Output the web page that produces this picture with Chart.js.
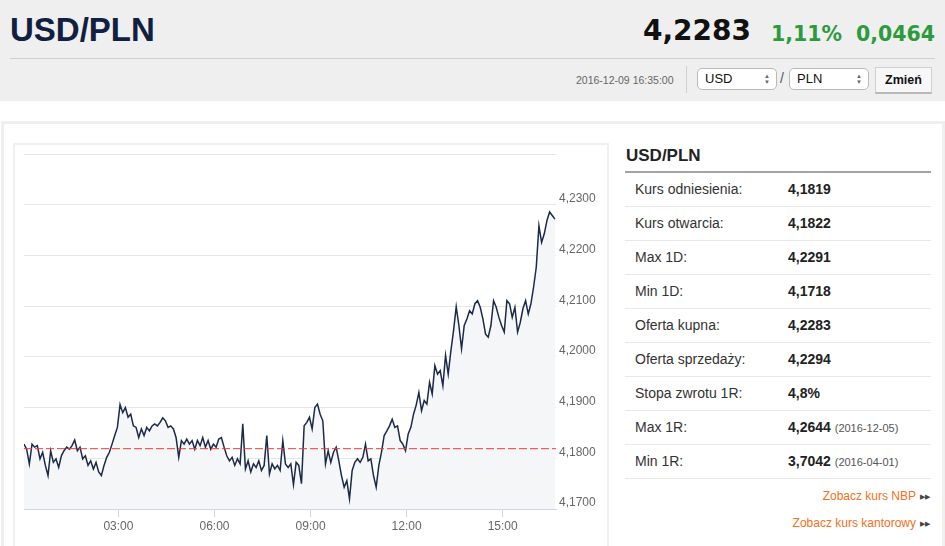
<!DOCTYPE html>
<html lang="pl">
<head>
<meta charset="UTF-8">
<title>USD/PLN</title>
<script src="https://cdn.jsdelivr.net/npm/chart.js@4.4.1/dist/chart.umd.min.js"></script>
<style>
  body { margin: 0; width: 945px; height: 546px; overflow: hidden; background: #fff; position: relative;
         font-family: Arial, "Liberation Sans", sans-serif; color: #333; }
  .abs { position: absolute; white-space: nowrap; }
  #header { left: 0; top: 0; width: 945px; height: 101px; background: #efefef; }
  .title { font-family: "Liberation Sans", Arial, sans-serif; font-weight: bold; font-size: 33px; line-height: 33px; color: #0f2040; }
  .price { font-family: "DejaVu Sans", sans-serif; font-weight: bold; font-size: 28px; line-height: 28px; color: #111; }
  .green { font-family: "DejaVu Sans", sans-serif; color: #2e9a3e; font-weight: bold; font-size: 20.5px; line-height: 20.5px; }
  .sel { height: 20px; border: 1px solid #b9b9b9; border-radius: 5px; background: #fff; font-size: 13px; line-height: 20px; color: #111; }
  .sel .t { position: absolute; left: 7px; top: 0; }
  .sel .arr { position: absolute; right: 6px; top: 4px; font-size: 6px; line-height: 6px; color: #666; }
  .row { left: 625px; width: 306px; height: 33px; border-bottom: 1px solid #e8e8e8; font-size: 14px; line-height: 33px; }
  .row .l { position: absolute; left: 10px; color: #333; }
  .row .v { position: absolute; left: 163px; font-weight: bold; color: #222; }
  .row .d { font-weight: normal; font-size: 11px; color: #555; }
  .link { right: 15px; font-size: 12px; color: #f37021; }
  .link span { color: #444; font-size: 7px; margin-left: 4px; vertical-align: 1px; }
</style>
</head>
<body>
<div id="header" class="abs"></div>
<div class="abs title" style="left:10px; top:13px;">USD/PLN</div>
<div class="abs price" style="left:643px; top:17px;">4,2283</div>
<div class="abs green" style="left:771px; top:24px;">1,11%</div>
<div class="abs green" style="left:856px; top:24px;">0,0464</div>
<div class="abs" style="left:10px; top:58px; width:925px; height:1px; background:#cfcfcf;"></div>
<div class="abs" style="left:576px; top:74px; font-size:10.5px; color:#666;">2016-12-09 16:35:00</div>
<div class="abs" style="left:686px; top:66px; width:1px; height:27px; background:#cfcfcf;"></div>
<div class="abs sel" style="left:697px; top:68px; width:78px;"><span class="t">USD</span><span class="arr">▲<br>▼</span></div>
<div class="abs" style="left:780px; top:70px; font-size:14px; color:#555;">/</div>
<div class="abs sel" style="left:789px; top:68px; width:78px;"><span class="t">PLN</span><span class="arr">▲<br>▼</span></div>
<div class="abs" style="left:875px; top:67px; width:55px; height:24px; background:#f7f7f7; border:1px solid #d0d0d0; border-bottom:2px solid #b8b8b8; font-size:12.5px; font-weight:bold; line-height:25px; text-align:center; color:#111;">Zmień</div>

<div class="abs" style="left:1px; top:121px; width:938px; height:440px; border:3px solid #efefef;"></div>
<div class="abs" style="left:13px; top:143px; width:592px; height:420px; border:2px solid #f0f0f0;"></div>
<div class="abs" style="left:14px; top:144px; width:594px; height:400px;">
  <canvas id="rateChart" width="594" height="400"></canvas>
</div>

<div class="abs" style="left:626px; top:146px; font-size:17px; font-weight:bold; color:#222;">USD/PLN</div>
<div class="abs" style="left:625px; top:171px; width:306px; height:2px; background:#a3a3a3;"></div>
<div id="stats"></div>
<div class="abs link" style="top:489px;">Zobacz kurs NBP<span>▶▶</span></div>
<div class="abs link" style="top:516px;">Zobacz kurs kantorowy<span>▶▶</span></div>

<script>
// intraday USD/PLN, one reading every 5 minutes from 00:03
const startMinute = 3;
const stepMinutes = 5;
const endMinute = 1000;
const rates = [
  4.1828, 4.1818, 4.1789, 4.1828, 4.1822, 4.1825, 4.1799, 4.1812, 4.1786, 4.1766,
  4.1815, 4.1792, 4.1799, 4.1782, 4.1805, 4.1815, 4.1822, 4.1818, 4.1825, 4.1836,
  4.1815, 4.1822, 4.1799, 4.1805, 4.1786, 4.1795, 4.1779, 4.1792, 4.1773, 4.1766,
  4.1786, 4.1802, 4.1812, 4.1828, 4.1845, 4.1861, 4.1906, 4.1890, 4.1900, 4.1881,
  4.1887, 4.1864, 4.1861, 4.1841, 4.1858, 4.1845, 4.1861, 4.1854, 4.1864, 4.1868,
  4.1864, 4.1871, 4.1880, 4.1874, 4.1861,
  4.1864, 4.1858, 4.1841, 4.1802, 4.1835, 4.1828, 4.1838, 4.1828, 4.1835, 4.1818,
  4.1835, 4.1825, 4.1841, 4.1822, 4.1835, 4.1818, 4.1828, 4.1822, 4.1838, 4.1841,
  4.1822, 4.1805, 4.1795, 4.1802, 4.1786, 4.1799, 4.1789, 4.1868, 4.1779, 4.1795,
  4.1773, 4.1789, 4.1782, 4.1795, 4.1776, 4.1786, 4.1845, 4.1769, 4.1789, 4.1779,
  4.1786, 4.1776, 4.1835, 4.1789, 4.1782, 4.1789, 4.1748, 4.1792, 4.1786, 4.1750,
  4.1864, 4.1871, 4.1881, 4.1858, 4.1900,
  4.1907, 4.1887, 4.1874, 4.1789, 4.1815, 4.1792, 4.1812, 4.1822, 4.1795, 4.1766,
  4.1743, 4.1756, 4.1720, 4.1776, 4.1792, 4.1799, 4.1792, 4.1802, 4.1828, 4.1795,
  4.1799, 4.1766, 4.1743, 4.1786, 4.1812, 4.1845, 4.1854, 4.1864, 4.1877, 4.1861,
  4.1864, 4.1835, 4.1828, 4.1815, 4.1848, 4.1861, 4.1887,
  4.1905, 4.1930, 4.1894, 4.1914, 4.1907, 4.1950, 4.1927, 4.1983, 4.1966, 4.1973,
  4.1943, 4.2003, 4.1966, 4.2012, 4.2052, 4.2099, 4.2062, 4.2016, 4.2062, 4.2075,
  4.2091, 4.2085, 4.2105, 4.2111, 4.2098, 4.2075, 4.2045, 4.2039, 4.2062, 4.2111,
  4.2098, 4.2078, 4.2062, 4.2049, 4.2111, 4.2105, 4.2078, 4.2098, 4.2049, 4.2068,
  4.2095, 4.2111, 4.2085, 4.2105, 4.2138, 4.2177, 4.2259, 4.2226, 4.2243, 4.2269,
  4.2286, 4.2279, 4.2272
];
const refRate = 4.1819;

const xTickMinutes = [180, 360, 540, 720, 900];
const xTickLabels = ['03:00', '06:00', '09:00', '12:00', '15:00'];
const yTickValues = [4.17, 4.18, 4.19, 4.20, 4.21, 4.22, 4.23, 4.24];
const yTickLabels = ['4,1700', '4,1800', '4,1900', '4,2000', '4,2100', '4,2200', '4,2300', ''];

const statLabels = ['Kurs odniesienia:', 'Kurs otwarcia:', 'Max 1D:', 'Min 1D:', 'Oferta kupna:',
                    'Oferta sprzedaży:', 'Stopa zwrotu 1R:', 'Max 1R:', 'Min 1R:'];
const statValues = ['4,1819', '4,1822', '4,2291', '4,1718', '4,2283', '4,2294', '4,8%', '4,2644', '3,7042'];
const statDates = ['', '', '', '', '', '', '', '(2016-12-05)', '(2016-04-01)'];

// table on the right
const stats = document.getElementById('stats');
statLabels.forEach((label, i) => {
    const row = document.createElement('div');
    row.className = 'abs row';
    row.style.top = (173 + i * 34) + 'px';
    const date = statDates[i] ? ' <span class="d">' + statDates[i] + '</span>' : '';
    row.innerHTML = '<span class="l">' + label + '</span><span class="v">' + statValues[i] + date + '</span>';
    stats.appendChild(row);
});

const points = rates.map((v, i) => ({ x: startMinute + i * stepMinutes, y: v }));

const ctx = document.getElementById('rateChart').getContext('2d');
new Chart(ctx, {
    type: 'line',
    data: {
        datasets: [
            {
                data: points,
                borderColor: '#1b2a48',
                borderWidth: 1.5,
                pointRadius: 0,
                tension: 0,
                fill: 'start',
                backgroundColor: '#f5f6f8',
                order: 2
            },
            {
                data: [{ x: startMinute, y: refRate }, { x: endMinute, y: refRate }],
                borderColor: '#f03a3a',
                borderWidth: 1,
                borderDash: [8, 3],
                pointRadius: 0,
                fill: false,
                order: 1
            }
        ]
    },
    options: {
        responsive: false,
        animation: false,
        devicePixelRatio: 1,
        layout: { padding: { left: 10, top: 9, right: 0, bottom: 0 } },
        plugins: { legend: { display: false }, tooltip: { enabled: false } },
        scales: {
            x: {
                type: 'linear',
                min: startMinute,
                max: endMinute,
                afterBuildTicks: s => { s.ticks = xTickMinutes.map(v => ({ value: v })); },
                afterFit: s => { s.height = 35; },
                ticks: {
                    autoSkip: false,
                    maxRotation: 0,
                    padding: 2,
                    color: '#666',
                    font: { size: 12, family: 'Arial' },
                    callback: v => xTickLabels[xTickMinutes.indexOf(v)] || ''
                },
                grid: { drawOnChartArea: false, drawTicks: true, tickLength: 8, color: '#ccd6eb' },
                border: { display: true, color: '#ccd6eb' }
            },
            y: {
                position: 'right',
                min: yTickValues[0],
                max: yTickValues[yTickValues.length - 1],
                afterBuildTicks: s => { s.ticks = yTickValues.map(v => ({ value: v })); },
                afterFit: s => { s.width = 52; },
                ticks: {
                    padding: 3,
                    labelOffset: -6,
                    color: '#666',
                    font: { size: 12, family: 'Arial' },
                    callback: v => yTickLabels[yTickValues.findIndex(t => Math.abs(t - v) < 1e-6)] || ''
                },
                grid: { color: '#e6e6e6', drawTicks: false },
                border: { display: false }
            }
        }
    }
});
</script>
</body>
</html>
